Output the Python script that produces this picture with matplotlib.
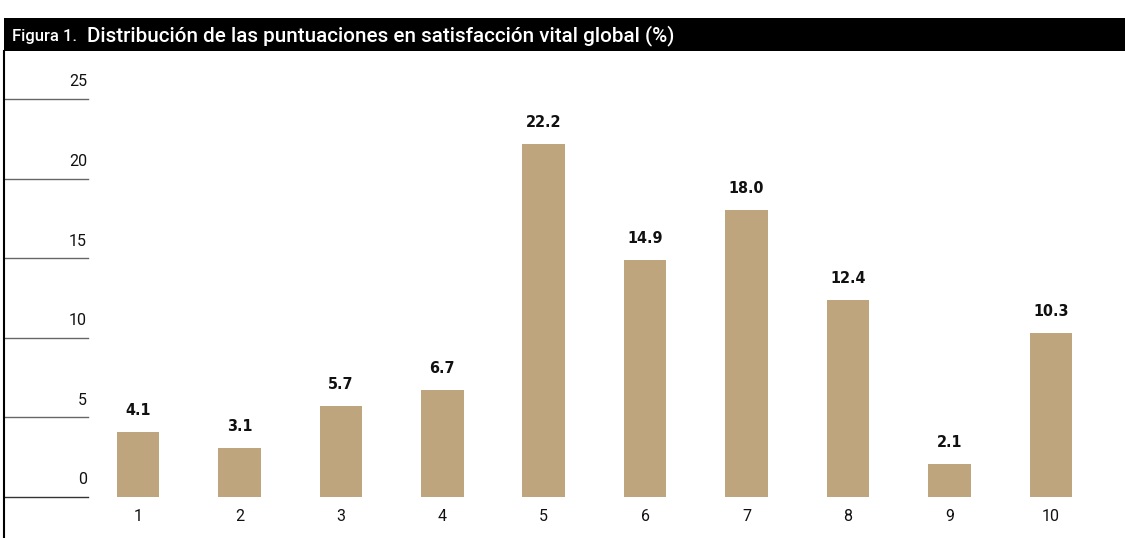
import matplotlib
matplotlib.use("Agg")
import matplotlib.pyplot as plt
from matplotlib.patches import Rectangle

# puntuaciones en satisfaccion vital (escala 1-10) y porcentaje
scores = [1, 2, 3, 4, 5, 6, 7, 8, 9, 10]
percent = [4.1, 3.1, 5.7, 6.7, 22.2, 14.9, 18.0, 12.4, 2.1, 10.3]
y_ticks = [0, 5, 10, 15, 20, 25]

BAR_COLOR = "#bea57e"
W, H = 1125, 538

fig = plt.figure(figsize=(W / 100, H / 100), dpi=100)

# title band
fig.patches.append(Rectangle((4 / W, 1 - 51 / H), 1 - 4 / W, 33 / H,
                             transform=fig.transFigure, facecolor="black",
                             edgecolor="none", zorder=0))
fig.text(12 / W, 1 - 41 / H, "Figura 1.", color="white", fontsize=12,
         family="Roboto", fontweight="medium", va="baseline", ha="left")
fig.text(87 / W, 1 - 41 / H,
         "Distribución de las puntuaciones en satisfacción vital global (%)",
         color="white", fontsize=14.9, family="Roboto", fontweight="medium",
         va="baseline", ha="left")

ax = fig.add_axes([4 / W, 0, 1 - 4 / W, 1 - 51 / H])
ax.bar(scores, percent, width=0.42, color=BAR_COLOR, zorder=2)

for x, v in zip(scores, percent):
    ax.annotate(f"{v:.1f}", (x, v), xytext=(0, 10), textcoords="offset points",
                ha="center", va="bottom", fontsize=11.5, fontweight="bold",
                family="DejaVu Sans", fontstretch="condensed", color="#111111")

# short horizontal guide lines with labels on the left
label_tr = ax.get_yaxis_transform()
for t in y_ticks:
    ax.axhline(t, xmin=0, xmax=84 / (W - 4), color="#333333" if t == 0 else "#666666",
               linewidth=1.0, zorder=1)
    ax.text(83 / (W - 4), t + 0.6, str(t), transform=label_tr, ha="right",
            va="bottom", fontsize=11.5, family="Roboto", color="#111111")

for x in scores:
    ax.text(x, -1.2, str(x), ha="center", va="center", fontsize=11.5,
            family="Roboto", color="#111111")

ax.set_xlim(-0.32, 10.73)
ax.set_ylim(-2.575, 28.01)
ax.set_xticks([])
ax.set_yticks([])
for side in ["top", "right", "bottom"]:
    ax.spines[side].set_visible(False)
ax.spines["left"].set_linewidth(1.5)
ax.spines["left"].set_color("black")

fig.savefig("out.png", dpi=100)
